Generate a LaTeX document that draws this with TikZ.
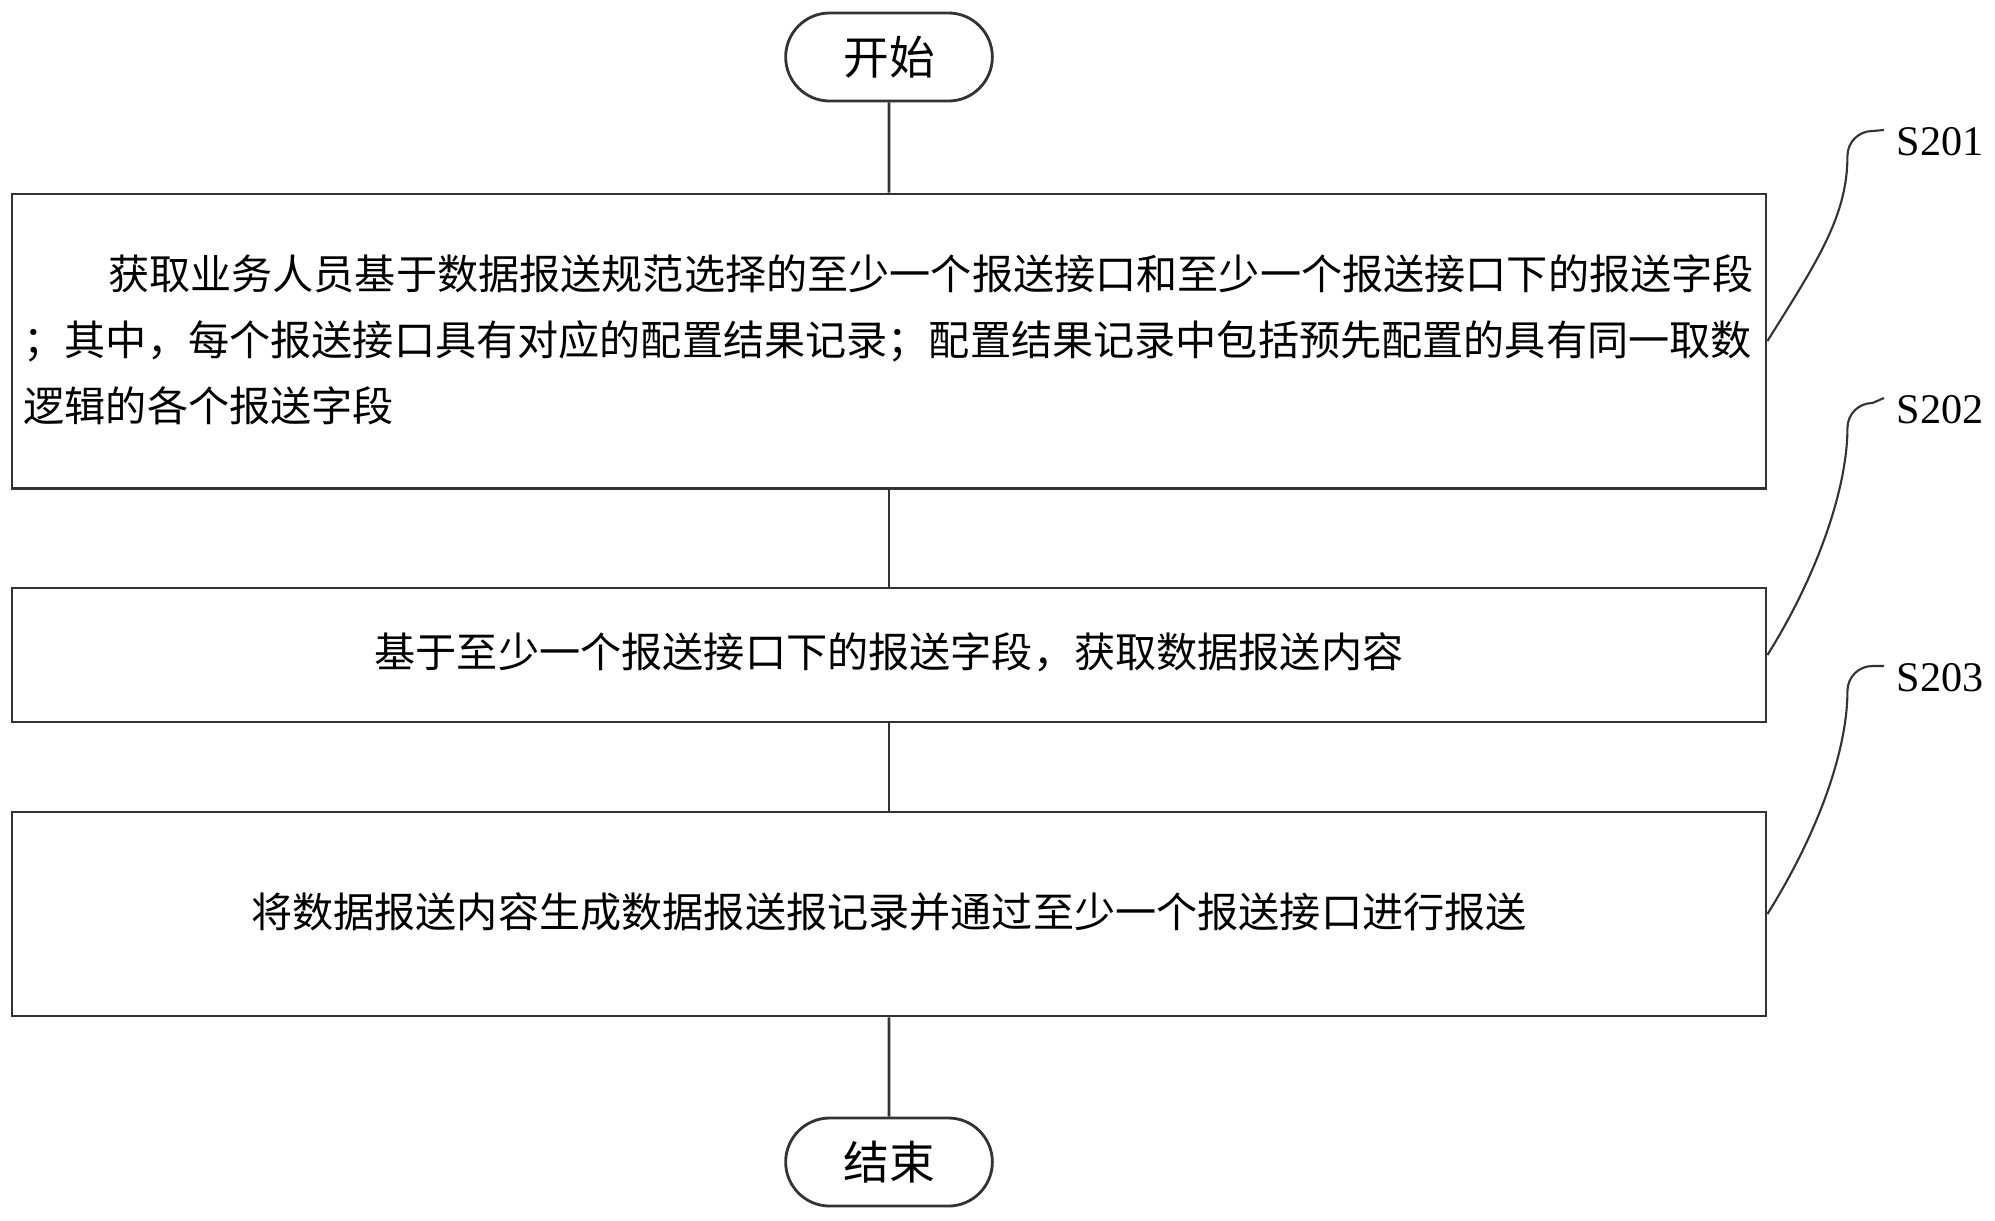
\documentclass[tikz,border=0pt]{standalone}
\usepackage{fontspec}
\setmainfont{Liberation Serif}
\newfontfamily\cjk{Noto Sans CJK SC}
\usetikzlibrary{shapes.misc}
\tikzset{
  stepbox/.style={draw=black!80, line width=0.8pt, minimum width=17.53cm, inner sep=0pt},
  term/.style={draw=black!80, line width=0.8pt, rounded rectangle, minimum width=2.3cm, minimum height=0.88cm, font=\cjk\fontsize{13}{15}\selectfont},
  lbl/.style={anchor=west, inner sep=0pt, font=\fontsize{12}{14}\selectfont},
  link/.style={draw=black!80, line width=0.8pt},
}
\begin{document}
\begin{tikzpicture}[x=0.01cm, y=-0.01cm]
\useasboundingbox (0,0) rectangle (1995,1220);

%terminators
\node [term] (start) at (889,57) {开始};
\node [term] (end) at (889,1162) {结束};

%the three steps
\node [stepbox, minimum height=2.94cm] (b1) at (889,341) {};
\node [stepbox, minimum height=1.34cm] (b2) at (889,655) {};
\node [stepbox, minimum height=2.04cm] (b3) at (889,914) {};

\node [anchor=west, align=left, inner sep=0pt, font=\cjk\fontsize{11.7}{18.8}\selectfont] (t1) at (23,340)
  {\hspace*{2.05em}获取业务人员基于数据报送规范选择的至少一个报送接口和至少一个报送接口下的报送字段\\
   ；其中，每个报送接口具有对应的配置结果记录；配置结果记录中包括预先配置的具有同一取数\\
   逻辑的各个报送字段};
\node [font=\cjk\fontsize{11.7}{14}\selectfont] (t2) at (889,652) {基于至少一个报送接口下的报送字段，获取数据报送内容};
\node [font=\cjk\fontsize{11.7}{14}\selectfont] (t3) at (889,912) {将数据报送内容生成数据报送报记录并通过至少一个报送接口进行报送};

%connectors
\draw [link] (start) -- (b1);
\draw [link] (b1) -- (b2);
\draw [link] (b2) -- (b3);
\draw [link] (b3) -- (end);

%step labels
\node [lbl] (l1) at (1896,142) {S201};
\node [lbl] (l2) at (1896,410) {S202};
\node [lbl] (l3) at (1896,678) {S203};

\draw [link, line width=0.6pt] (b1.east) .. controls +(50,-80) and +(0,60) .. ++(80,-185) to[out=90,in=180] ++(25,-25) -- ([xshift=-0.12cm,yshift=0.12cm]l1.west);
\draw [link, line width=0.6pt] (b2.east) .. controls +(50,-80) and +(0,60) .. ++(80,-227) to[out=90,in=180] ++(25,-25) -- ([xshift=-0.12cm,yshift=0.12cm]l2.west);
\draw [link, line width=0.6pt] (b3.east) .. controls +(50,-80) and +(0,60) .. ++(80,-223) to[out=90,in=180] ++(25,-25) -- ([xshift=-0.12cm,yshift=0.12cm]l3.west);

\end{tikzpicture}
\end{document}
